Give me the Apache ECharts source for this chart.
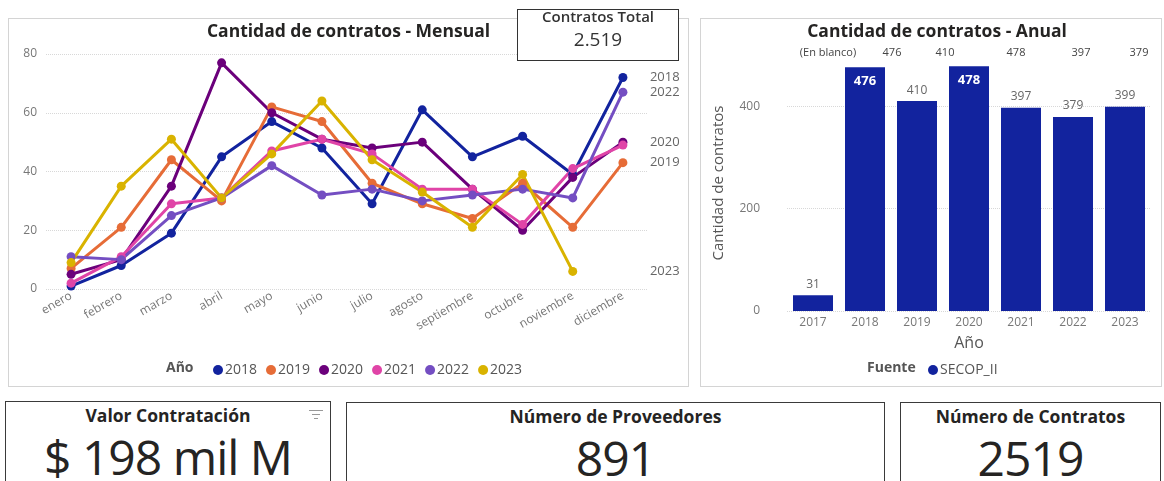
<!DOCTYPE html>
<html>
<head>
<meta charset="utf-8">
<script src="https://cdn.jsdelivr.net/npm/echarts@6/dist/echarts.min.js"></script>
<style>
  body { margin: 0; background: #fff; font-family: 'Open Sans', sans-serif; overflow: hidden; }
  .panel { position: absolute; box-sizing: border-box; border: 1px solid #d4d4d4; background: #fff; }
  .card { position: absolute; box-sizing: border-box; border: 1.5px solid #3a3a3a; background: #fff; text-align: center; color: #252423; }
  .card .tit { position: absolute; left: 0; right: 0; top: 1px; font-size: 17.5px; font-weight: 700; }
  .card .big { position: absolute; left: 0; right: 0; top: 22px; font-size: 48px; font-weight: 400; letter-spacing: -1px; }
  #total { position: absolute; left: 517px; top: 9px; width: 162px; height: 52px; box-sizing: border-box; border: 1.5px solid #333; background: #fff; text-align: center; color: #333; }
</style>
</head>
<body>
<div id="mensual" class="panel" style="left:8px;top:18px;width:681px;height:369px;"></div>
<div id="anual" class="panel" style="left:700px;top:18px;width:462px;height:369px;"></div>
<div id="total">
  <div style="font-size:15px;font-weight:600;margin-top:-4px;">Contratos Total</div>
  <div style="font-size:19px;margin-top:0px;">2.519</div>
</div>
<div class="card" style="left:5px;top:401px;width:326px;height:100px;">
  <div class="tit">Valor Contratación</div>
  <svg style="position:absolute;left:303px;top:7px" width="14" height="12">
    <line x1="0" y1="1.5" x2="14" y2="1.5" stroke="#999" stroke-width="1"/>
    <line x1="3" y1="5.5" x2="11" y2="5.5" stroke="#999" stroke-width="1"/>
    <line x1="5" y1="9.5" x2="9" y2="9.5" stroke="#999" stroke-width="1"/>
  </svg>
  <div class="big">$ 198 mil M</div>
</div>
<div class="card" style="left:346px;top:402px;width:539px;height:100px;">
  <div class="tit">Número de Proveedores</div>
  <div class="big">891</div>
</div>
<div class="card" style="left:900px;top:402px;width:261px;height:100px;">
  <div class="tit">Número de Contratos</div>
  <div class="big">2519</div>
</div>
<script>
// datos mensuales por año
const months = ['enero', 'febrero', 'marzo', 'abril', 'mayo', 'junio', 'julio', 'agosto', 'septiembre', 'octubre', 'noviembre', 'diciembre'];
const years = ['2018', '2019', '2020', '2021', '2022', '2023'];
const v2018 = [1, 8, 19, 45, 57, 48, 29, 61, 45, 52, 39, 72];
const v2019 = [7, 21, 44, 30, 62, 57, 36, 29, 24, 36, 21, 43];
const v2020 = [5, 10, 35, 77, 60, 51, 48, 50, 34, 20, 38, 50];
const v2021 = [2, 11, 29, 31, 47, 51, 46, 34, 34, 22, 41, 49];
const v2022 = [11, 10, 25, 31, 42, 32, 34, 30, 32, 34, 31, 67];
const v2023 = [9, 35, 51, 31, 46, 64, 44, 33, 21, 39, 6, null];
const yearColors = ['#12239E', '#E66C37', '#6B007B', '#E044A7', '#744EC2', '#D9B300'];
// etiquetas al final de la línea (2021 queda oculta por 2020)
const endLabelYears = ['2018', '2019', '2020', '2022', '2023'];

// datos anuales
const barYears = ['2017', '2018', '2019', '2020', '2021', '2022', '2023'];
const barValues = [31, 476, 410, 478, 397, 379, 399];
const topRowLabels = ['(En blanco)', '476', '410', '478', '397', '379'];

const font = 'Open Sans';
const monthly = [v2018, v2019, v2020, v2021, v2022, v2023];

//gráfico mensual
const lineChart = echarts.init(document.getElementById('mensual'));
lineChart.setOption({
    animation: false,
    textStyle: { fontFamily: font },
    graphic: [
        { type: 'text', left: 'center', top: 4, style: { text: 'Cantidad de contratos - Mensual', font: 'bold 17.5px "Open Sans"', fill: '#252423' } },
        { type: 'text', left: 157, top: 342, style: { text: 'Año', font: 'bold 14px "Open Sans"', fill: '#555' } }
    ],
    legend: {
        left: 199, top: 339, icon: 'circle', itemWidth: 10, itemHeight: 10, itemGap: 9,
        textStyle: { color: '#555', fontSize: 14, fontFamily: font, padding: [0, 0, 0, -3] },
        data: years
    },
    grid: { left: 37, top: 35, width: 602, height: 235 },
    xAxis: {
        type: 'category', data: months, boundaryGap: true,
        axisLine: { show: false }, axisTick: { show: false },
        axisLabel: { rotate: 30, color: '#777', fontSize: 12, margin: 6, interval: 0 }
    },
    yAxis: {
        type: 'value', min: 0, max: 80, interval: 20,
        axisLabel: { color: '#777', fontSize: 12, margin: 9 },
        splitLine: { lineStyle: { color: '#d8d8d8', type: 'dotted' } }
    },
    series: years.map((y, i) => {
        const vals = monthly[i];
        let last = vals.length - 1;
        while (vals[last] == null) last--;
        return {
            name: y, type: 'line', data: vals, color: yearColors[i],
            symbol: 'circle', symbolSize: 9, lineStyle: { width: 3 },
            markPoint: endLabelYears.includes(y) ? {
                symbol: 'circle', symbolSize: 0, silent: true,
                data: [{ coord: [months[months.length - 1], vals[last]] }],
                label: { show: true, position: 'right', distance: 27, formatter: y, color: '#666', fontSize: 13 }
            } : undefined
        };
    })
});

//gráfico anual
const barChart = echarts.init(document.getElementById('anual'));
const topXs = [127, 191, 244, 315, 380, 438];
barChart.setOption({
    animation: false,
    textStyle: { fontFamily: font },
    graphic: [
        { type: 'text', x: 236, y: 4, style: { text: 'Cantidad de contratos - Anual', font: 'bold 17.5px "Open Sans"', fill: '#252423', align: 'center' } },
        { type: 'text', left: 166, top: 342, style: { text: 'Fuente', font: 'bold 14px "Open Sans"', fill: '#555' } }
    ].concat(topRowLabels.map((t, i) => ({
        type: 'text', x: topXs[i], y: 34,
        style: { text: t, font: '11px "Open Sans"', fill: '#444', align: 'center', verticalAlign: 'middle' }
    }))),
    legend: {
        left: 222, top: 339, icon: 'circle', itemWidth: 10, itemHeight: 10,
        textStyle: { color: '#555', fontSize: 14, fontFamily: font, padding: [0, 0, 0, -3] },
        data: ['SECOP_II']
    },
    grid: { left: 86, top: 36, width: 364, height: 256 },
    xAxis: {
        type: 'category', data: barYears,
        name: 'Año', nameLocation: 'middle', nameGap: 24,
        nameTextStyle: { color: '#555', fontSize: 16 },
        axisLine: { show: false }, axisTick: { show: false },
        axisLabel: { color: '#777', fontSize: 12, margin: 6 }
    },
    yAxis: {
        type: 'value', min: 0, max: 500, interval: 200,
        name: 'Cantidad de contratos', nameLocation: 'middle', nameGap: 61,
        nameTextStyle: { color: '#555', fontSize: 15 },
        axisLabel: { color: '#777', fontSize: 12, margin: 27, showMaxLabel: false },
        splitLine: { showMaxLine: false, lineStyle: { color: '#d8d8d8', type: 'dotted' } }
    },
    series: [{
        name: 'SECOP_II', type: 'bar', color: '#12239E', barWidth: 40,
        data: barValues.map(v => v > 450
            ? { value: v, label: { position: 'insideTop', distance: 8, color: '#fff', fontWeight: 'bold', fontSize: 13 } }
            : v),
        label: { show: true, position: 'top', distance: 5, color: '#666', fontSize: 12 }
    }]
});
</script>
</body>
</html>
